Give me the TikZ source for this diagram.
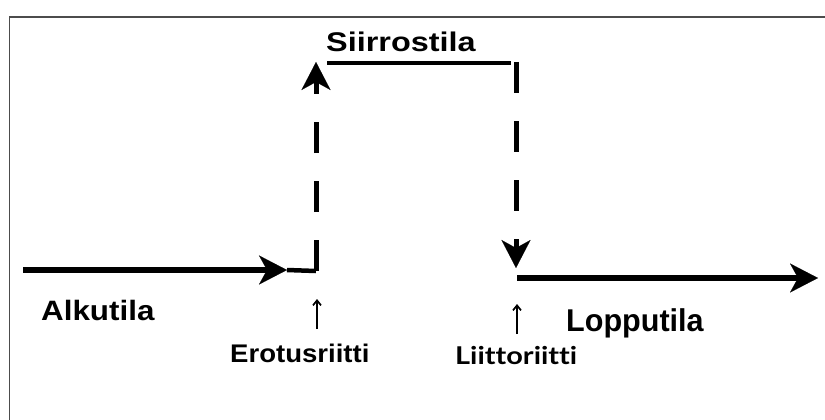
\documentclass[tikz,border=0pt]{standalone}
\usepackage{fontspec}
\setmainfont{Liberation Sans}
\newfontfamily\latofont[Ligatures={NoCommon,NoDiscretionary,NoRare,NoContextual}]{Lato}
\usetikzlibrary{arrows.meta}
\begin{document}
\begin{tikzpicture}[x=1pt,y=-1pt,
  mainline/.style={line width=5.5pt},
  solidseg/.style={line width=4.5pt},
  dashline/.style={line width=5pt, dash pattern=on 31pt off 28pt},
  bigtip/.style={-{Stealth[length=28pt,width=29pt,inset=8pt,line width=0.1pt]}},
  smallarrow/.style={line width=1.7pt,-{Straight Barb[length=5pt,width=8pt]}},
  lbl/.style={inner sep=0pt, anchor=base west}]
\useasboundingbox (0,0) rectangle (825,420);
\fill[white] (0,0) rectangle (825,420);
% frame
\draw[line width=1.3pt, black!70] (9.5,420) -- (9.5,17) -- (825,17);
% coordinates
\coordinate (a0) at (23,270);
\coordinate (a1) at (287,270);
\coordinate (ec) at (316,271);
\coordinate (et) at (316,62);
\coordinate (tl) at (327,63);
\coordinate (tr) at (511,63);
\coordinate (rt) at (516,62);
\coordinate (rb) at (516,268);
\coordinate (b0) at (517,278);
\coordinate (b1) at (818,278);
\coordinate (ep) at (317,299);
\coordinate (lp) at (517,304);
% main path
\draw[mainline, bigtip] (a0) -- (a1);
\draw[solidseg] (a1) -- (ec);
\draw[dashline, bigtip] (ec) -- (et);
\draw[solidseg] (tl) -- (tr);
\draw[dashline, bigtip] (rt) -- (rb);
\draw[mainline, bigtip] (b0) -- (b1);
% labels
\node[lbl, font=\fontsize{27}{30}\selectfont\bfseries] (siirros) at (326,52) {\scalebox{1.2}[1]{Siirrostila}};
\node[lbl, font=\fontsize{28}{30}\selectfont\bfseries] (alku) at (41,320) {\scalebox{1.12}[1]{Alkutila}};
\node[lbl, font=\fontsize{31.5}{34}\selectfont\bfseries] (loppu) at (566,331) {\scalebox{0.97}[1]{Lopputila}};
\node[lbl, font=\fontsize{25.5}{28}\selectfont\bfseries] (erotus) at (230,362) {\scalebox{1.08}[1]{Erotusriitti}};
\node[lbl, font=\latofont\fontsize{24.5}{28}\selectfont\bfseries] (liitto) at (455,364) {\scalebox{1.18}[1]{Liittoriitti}};
% small arrows
\coordinate (es) at (317,329);
\coordinate (ls) at (517,334);
\draw[smallarrow] (es) -- (ep);
\draw[smallarrow] (ls) -- (lp);
\end{tikzpicture}
\end{document}
